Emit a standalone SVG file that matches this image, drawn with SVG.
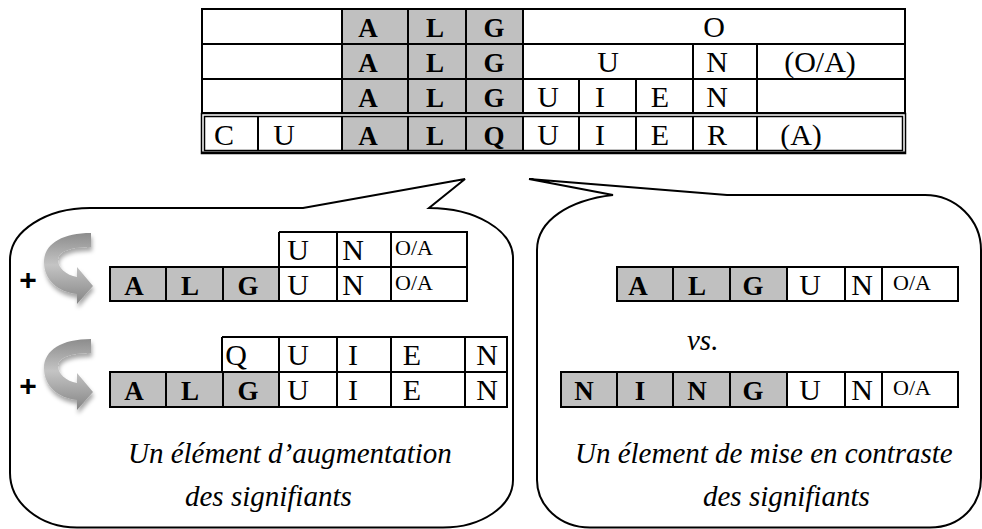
<svg xmlns="http://www.w3.org/2000/svg" width="982" height="529" viewBox="0 0 982 529">
<defs>
<style>
.ln{stroke:#000;stroke-width:2;fill:none}
.ln1{stroke:#000;stroke-width:1.5;fill:none}
.bub{stroke:#000;stroke-width:2;fill:#fff;stroke-linejoin:miter}
.g{fill:#c0c0c0}
.t{font-family:"Liberation Serif","Times New Roman",serif;font-size:30px;text-anchor:middle;fill:#000}
.b{font-weight:bold;font-size:27px}
.s{font-size:22px;text-anchor:start}
.it{font-style:italic;font-size:29px;text-anchor:start}
.plus{font-family:"Liberation Sans",Arial,sans-serif;font-weight:bold;font-size:30px;text-anchor:middle;fill:#000}
.arr{fill:url(#ag);filter:url(#sh)}
</style>
<linearGradient id="ag" x1="0" y1="0" x2="0" y2="1">
<stop offset="0" stop-color="#8c8c8c"/>
<stop offset="0.45" stop-color="#c4c4c4"/>
<stop offset="1" stop-color="#858585"/>
</linearGradient>
<filter id="sh" x="-30%" y="-30%" width="160%" height="160%">
<feDropShadow dx="1" dy="4" stdDeviation="2" flood-color="#000" flood-opacity="0.35"/>
</filter>
<path id="carrow" d="M91 233 L91 247 C72 247 58 251 58 260 C58 268 66 275 77 277 L77 267 L93 286 L77 304 L77 294 C58 292 44 280 44 262 C44 244 62 233 91 233 Z"/>
</defs>
<rect width="982" height="529" fill="#fff"/>

<g id="top-table">
<rect class="g" x="342" y="9" width="181" height="104"/>
<rect class="g" x="342" y="116.5" width="181" height="34"/>
<rect class="ln" x="202" y="9" width="703" height="104"/>
<path class="ln" d="M202 44H905M202 79H905M342 9V113M408 9V113M466 9V113M523 9V113M693 44V113M757 44V113M579 79V113M636 79V113"/>
<rect class="ln1" x="201.5" y="113.5" width="704" height="40"/>
<rect class="ln1" x="204.5" y="116.5" width="698" height="34"/>
<path class="ln" d="M201 152.5H906"/>
<path class="ln" d="M258 116.5V150.5M342 116.5V150.5M408 116.5V150.5M466 116.5V150.5M523 116.5V150.5M579 116.5V150.5M636 116.5V150.5M693 116.5V150.5M757 116.5V150.5"/>
<g class="t">
<text class="b" x="368" y="37">A</text><text class="b" x="435" y="37">L</text><text class="b" x="494" y="37">G</text><text x="714" y="37">O</text>
<text class="b" x="368" y="72">A</text><text class="b" x="435" y="72">L</text><text class="b" x="494" y="72">G</text><text x="608" y="72">U</text><text x="717" y="72">N</text><text x="820" y="72">(O/A)</text>
<text class="b" x="368" y="107">A</text><text class="b" x="435" y="107">L</text><text class="b" x="494" y="107">G</text><text x="548" y="107">U</text><text x="600" y="107">I</text><text x="660" y="107">E</text><text x="717" y="107">N</text>
<text x="224" y="145">C</text><text x="284" y="145">U</text><text class="b" x="368" y="145">A</text><text class="b" x="435" y="145">L</text><text class="b" x="494" y="145">Q</text><text x="548" y="145">U</text><text x="600" y="145">I</text><text x="660" y="145">E</text><text x="717" y="145">R</text><text x="801" y="145">(A)</text>
</g>
</g>

<g id="bubble-left">
<path class="bub" d="M90 208 L303 208 L465 179 L429 208 C475 208 513 230 513 258 L513 480 C513 506 482 527.5 443 527.5 L77 527.5 C40 527.5 10 503 10 473 L10 260 C10 231 46 208 90 208 Z"/>
</g>

<g id="bubble-right">
<path class="bub" d="M613 195 L529 179 L727 195 L925 195 C956 195 981 220 981 250 L981 478 C981 506 960 527.5 930 527.5 L590 527.5 C560 527.5 537 506 537 480 L537 250 C537 220 570 200 613 195 Z"/>
</g>

<g id="augment-un">
<text class="plus" x="28" y="290">+</text>
<use href="#carrow" class="arr"/>
<rect class="g" x="110" y="267" width="169" height="34"/>
<path class="ln" d="M279 232H467V301H110V267H467M337 232V301M391 232V301M279 232V301M166 267V301M223 267V301"/>
<g class="t">
<text x="298" y="260">U</text><text x="353" y="260">N</text><text class="s" x="395" y="255">O/A</text>
<text class="b" x="134" y="295">A</text><text class="b" x="190" y="295">L</text><text class="b" x="248" y="295">G</text><text x="298" y="295">U</text><text x="353" y="295">N</text><text class="s" x="395" y="290">O/A</text>
</g>
</g>

<g id="augment-quien">
<text class="plus" x="28" y="396">+</text>
<use href="#carrow" class="arr" transform="translate(0 106)"/>
<rect class="g" x="110" y="372" width="169" height="35"/>
<path class="ln" d="M222 337H507V407H110V372H507M222 337V372M279 337V407M337 337V407M391 337V407M465 337V407M166 372V407M223 372V407"/>
<g class="t">
<text x="236" y="365">Q</text><text x="298" y="365">U</text><text x="353" y="365">I</text><text x="412" y="365">E</text><text x="487" y="365">N</text>
<text class="b" x="134" y="400">A</text><text class="b" x="190" y="400">L</text><text class="b" x="248" y="400">G</text><text x="298" y="400">U</text><text x="353" y="400">I</text><text x="412" y="400">E</text><text x="487" y="400">N</text>
</g>
</g>

<g id="caption-left">
<text class="t it" x="128" y="463">Un élément d’augmentation</text>
<text class="t it" x="185" y="506">des signifiants</text>
</g>

<g id="contrast-alg">
<rect class="g" x="617" y="267" width="170" height="34"/>
<rect class="ln" x="617" y="267" width="341" height="34"/>
<path class="ln" d="M673 267V301M730 267V301M787 267V301M845 267V301M882 267V301"/>
<g class="t">
<text class="b" x="638" y="295">A</text><text class="b" x="697" y="295">L</text><text class="b" x="753" y="295">G</text><text x="810" y="295">U</text><text x="862" y="295">N</text><text class="s" x="893" y="290">O/A</text>
</g>
</g>

<g id="vs">
<text class="t it" x="687" y="350">vs.</text>
</g>

<g id="contrast-ning">
<rect class="g" x="561" y="372" width="226" height="35"/>
<rect class="ln" x="561" y="372" width="397" height="35"/>
<path class="ln" d="M617 372V407M673 372V407M730 372V407M787 372V407M845 372V407M882 372V407"/>
<g class="t">
<text class="b" x="584" y="400">N</text><text class="b" x="640" y="400">I</text><text class="b" x="697" y="400">N</text><text class="b" x="753" y="400">G</text><text x="810" y="400">U</text><text x="862" y="400">N</text><text class="s" x="893" y="395">O/A</text>
</g>
</g>

<g id="caption-right">
<text class="t it" x="575" y="463">Un élement de mise en contraste</text>
<text class="t it" x="703" y="506">des signifiants</text>
</g>

<g id="connectors"></g>
</svg>
